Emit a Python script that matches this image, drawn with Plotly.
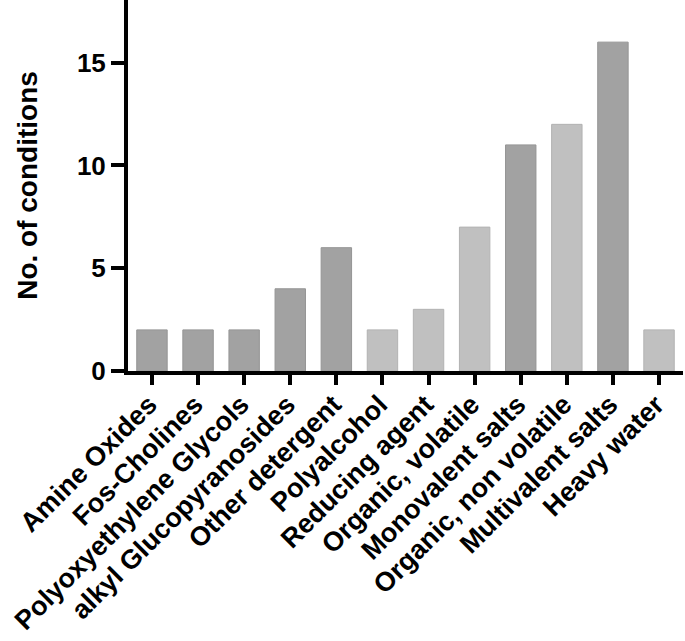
import plotly.graph_objects as go

categories = [
    'Amine Oxides', 'Fos-Cholines', 'Polyoxyethylene Glycols',
    'alkyl Glucopyranosides', 'Other detergent', 'Polyalcohol',
    'Reducing agent', 'Organic, volatile', 'Monovalent salts',
    'Organic, non volatile', 'Multivalent salts', 'Heavy water',
]
counts = [2, 2, 2, 4, 6, 2, 3, 7, 11, 12, 16, 2]
shade = ['dark', 'dark', 'dark', 'dark', 'dark', 'light',
         'light', 'light', 'dark', 'light', 'dark', 'light']

fill = {'dark': '#a2a2a2', 'light': '#c0c0c0'}
edge = {'dark': '#959595', 'light': '#b2b2b2'}

fig = go.Figure()
fig.add_trace(go.Bar(
    x=categories,
    y=counts,
    width=0.66,
    marker=dict(color=[fill[s] for s in shade],
                line=dict(color=[edge[s] for s in shade], width=1)),
))

font = 'Arial, Liberation Sans, sans-serif'
fig.update_layout(
    width=685, height=641,
    margin=dict(l=128, r=2, t=0, b=270),
    plot_bgcolor='white', paper_bgcolor='white',
    showlegend=False,
    font=dict(family=font, color='black'),
    xaxis=dict(
        range=[-0.52, 11.52],
        automargin=False,
        showline=True, linecolor='black', linewidth=4,
        ticks='outside', ticklen=10, tickwidth=4, tickcolor='black',
        tickangle=-45,
        ticklabelshift=-3,
        ticklabelstandoff=-7,
        tickfont=dict(size=27, family=font, weight='bold'),
        showgrid=False, zeroline=False,
    ),
    yaxis=dict(
        range=[0, 18.05],
        automargin=False,
        tickvals=[0, 5, 10, 15],
        showline=True, linecolor='black', linewidth=4,
        ticks='outside', ticklen=13, tickwidth=4, tickcolor='black',
        tickfont=dict(size=26, family=font, weight='bold'),
        ticklabelstandoff=0,
        showgrid=False, zeroline=False,
        title=dict(text='No. of conditions', standoff=32,
                   font=dict(size=28, family=font, weight='bold')),
    ),
)

# page body has a default 8px margin; drop it so the figure sits at 0,0
fig.write_html('out.html', config={'displayModeBar': False},
               post_script="document.body.style.margin='0';")
